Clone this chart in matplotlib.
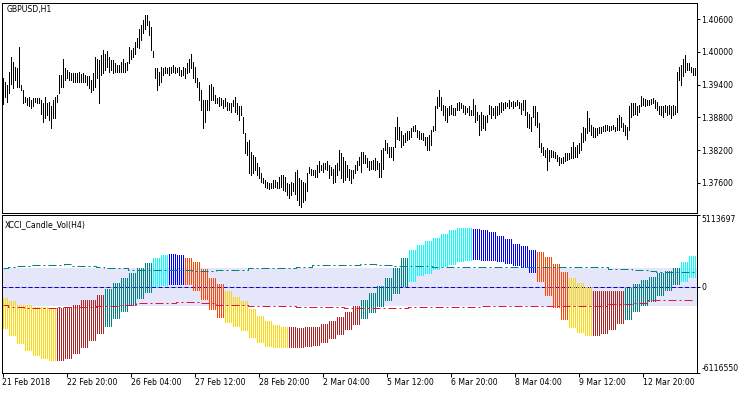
import numpy as np
import matplotlib
matplotlib.use('Agg')
import matplotlib.pyplot as plt

plt.rcParams['font.family'] = ['DejaVu Sans']
FS = 5.6

# GBPUSD H1 bars (high / low)
price_high = [
    1.3953, 1.3945, 1.3939, 1.3964, 1.3991, 1.3982, 1.3973, 1.3970, 1.4010, 1.3939,
    1.3930, 1.3918, 1.3915, 1.3918, 1.3912, 1.3915, 1.3915, 1.3915, 1.3915, 1.3912,
    1.3906, 1.3918, 1.3906, 1.3909, 1.3900, 1.3912, 1.3918, 1.3921, 1.3958, 1.3958,
    1.3988, 1.3970, 1.3967, 1.3964, 1.3961, 1.3962, 1.3962, 1.3961, 1.3964, 1.3960,
    1.3962, 1.3958, 1.3955, 1.3955, 1.3949, 1.3961, 1.3991, 1.3988, 1.3985, 1.3994,
    1.4004, 1.3997, 1.4001, 1.3991, 1.3985, 1.3985, 1.3979, 1.3976, 1.3976, 1.3982,
    1.3988, 1.3979, 1.3982, 1.4010, 1.4004, 1.4007, 1.4019, 1.4025, 1.4043, 1.4050,
    1.4059, 1.4068, 1.4068, 1.4056, 1.4046, 1.4001, 1.3970, 1.3970, 1.3964, 1.3973,
    1.3970, 1.3973, 1.3970, 1.3973, 1.3973, 1.3976, 1.3973, 1.3970, 1.3973, 1.3967,
    1.3973, 1.3970, 1.3979, 1.3988, 1.3997, 1.3982, 1.3973, 1.3952, 1.3945, 1.3930,
    1.3912, 1.3912, 1.3912, 1.3939, 1.3942, 1.3936, 1.3921, 1.3915, 1.3918, 1.3915,
    1.3912, 1.3915, 1.3909, 1.3906, 1.3906, 1.3912, 1.3918, 1.3906, 1.3900, 1.3900,
    1.3881, 1.3851, 1.3835, 1.3838, 1.3817, 1.3811, 1.3808, 1.3796, 1.3789, 1.3777,
    1.3768, 1.3765, 1.3762, 1.3760, 1.3759, 1.3765, 1.3765, 1.3762, 1.3771, 1.3774,
    1.3774, 1.3771, 1.3759, 1.3758, 1.3762, 1.3759, 1.3780, 1.3783, 1.3768, 1.3765,
    1.3762, 1.3759, 1.3777, 1.3789, 1.3786, 1.3783, 1.3783, 1.3792, 1.3799, 1.3792,
    1.3796, 1.3797, 1.3799, 1.3792, 1.3789, 1.3786, 1.3792, 1.3796, 1.3820, 1.3814,
    1.3808, 1.3799, 1.3792, 1.3786, 1.3783, 1.3783, 1.3792, 1.3799, 1.3808, 1.3817,
    1.3817, 1.3811, 1.3805, 1.3799, 1.3799, 1.3802, 1.3805, 1.3799, 1.3796, 1.3820,
    1.3823, 1.3838, 1.3832, 1.3826, 1.3826, 1.3826, 1.3863, 1.3881, 1.3863, 1.3854,
    1.3848, 1.3851, 1.3854, 1.3855, 1.3860, 1.3864, 1.3866, 1.3857, 1.3854, 1.3851,
    1.3852, 1.3844, 1.3844, 1.3848, 1.3857, 1.3864, 1.3901, 1.3918, 1.3930, 1.3918,
    1.3903, 1.3900, 1.3897, 1.3900, 1.3903, 1.3897, 1.3898, 1.3906, 1.3909, 1.3907,
    1.3903, 1.3900, 1.3898, 1.3900, 1.3893, 1.3913, 1.3903, 1.3890, 1.3884, 1.3890,
    1.3884, 1.3882, 1.3884, 1.3903, 1.3901, 1.3897, 1.3900, 1.3900, 1.3906, 1.3909,
    1.3907, 1.3909, 1.3907, 1.3911, 1.3909, 1.3910, 1.3909, 1.3912, 1.3909, 1.3906,
    1.3912, 1.3912, 1.3890, 1.3887, 1.3881, 1.3901, 1.3900, 1.3890, 1.3869, 1.3832,
    1.3826, 1.3820, 1.3823, 1.3820, 1.3820, 1.3819, 1.3817, 1.3811, 1.3808, 1.3805,
    1.3808, 1.3814, 1.3814, 1.3815, 1.3826, 1.3835, 1.3826, 1.3829, 1.3832, 1.3851,
    1.3863, 1.3860, 1.3892, 1.3878, 1.3866, 1.3863, 1.3860, 1.3860, 1.3863, 1.3862,
    1.3864, 1.3866, 1.3866, 1.3864, 1.3864, 1.3866, 1.3863, 1.3878, 1.3884, 1.3881,
    1.3869, 1.3866, 1.3863, 1.3900, 1.3907, 1.3907, 1.3906, 1.3900, 1.3903, 1.3919,
    1.3915, 1.3913, 1.3912, 1.3912, 1.3913, 1.3915, 1.3912, 1.3909, 1.3901, 1.3900,
    1.3900, 1.3903, 1.3900, 1.3903, 1.3900, 1.3903, 1.3900, 1.3964, 1.3973, 1.3976,
    1.3988, 1.3994, 1.3979, 1.3979, 1.3973, 1.3970, 1.3970,
]
price_low = [
    1.3904, 1.3918, 1.3909, 1.3924, 1.3942, 1.3933, 1.3949, 1.3936, 1.3936, 1.3930,
    1.3906, 1.3909, 1.3903, 1.3900, 1.3897, 1.3901, 1.3909, 1.3906, 1.3906, 1.3887,
    1.3872, 1.3878, 1.3884, 1.3875, 1.3860, 1.3878, 1.3878, 1.3909, 1.3924, 1.3936,
    1.3936, 1.3949, 1.3952, 1.3949, 1.3949, 1.3945, 1.3945, 1.3945, 1.3945, 1.3945,
    1.3945, 1.3945, 1.3939, 1.3933, 1.3927, 1.3930, 1.3936, 1.3952, 1.3906, 1.3958,
    1.3961, 1.3967, 1.3973, 1.3964, 1.3967, 1.3961, 1.3964, 1.3964, 1.3964, 1.3964,
    1.3964, 1.3964, 1.3967, 1.3979, 1.3988, 1.3991, 1.3997, 1.4010, 1.4007, 1.4022,
    1.4034, 1.4043, 1.4050, 1.4031, 1.4004, 1.3991, 1.3952, 1.3930, 1.3939, 1.3945,
    1.3958, 1.3961, 1.3961, 1.3958, 1.3961, 1.3964, 1.3961, 1.3964, 1.3958, 1.3955,
    1.3958, 1.3952, 1.3961, 1.3964, 1.3970, 1.3952, 1.3945, 1.3936, 1.3912, 1.3893,
    1.3860, 1.3872, 1.3893, 1.3893, 1.3912, 1.3912, 1.3906, 1.3906, 1.3900, 1.3903,
    1.3897, 1.3900, 1.3893, 1.3893, 1.3890, 1.3900, 1.3890, 1.3887, 1.3875, 1.3884,
    1.3851, 1.3814, 1.3811, 1.3777, 1.3774, 1.3777, 1.3783, 1.3774, 1.3768, 1.3762,
    1.3759, 1.3753, 1.3750, 1.3748, 1.3750, 1.3750, 1.3753, 1.3751, 1.3750, 1.3753,
    1.3747, 1.3744, 1.3737, 1.3731, 1.3737, 1.3744, 1.3740, 1.3728, 1.3719, 1.3716,
    1.3725, 1.3728, 1.3744, 1.3777, 1.3774, 1.3774, 1.3771, 1.3771, 1.3780, 1.3783,
    1.3780, 1.3786, 1.3783, 1.3768, 1.3774, 1.3759, 1.3762, 1.3774, 1.3783, 1.3768,
    1.3762, 1.3765, 1.3771, 1.3765, 1.3759, 1.3768, 1.3777, 1.3783, 1.3792, 1.3780,
    1.3796, 1.3796, 1.3789, 1.3783, 1.3786, 1.3786, 1.3783, 1.3786, 1.3771, 1.3771,
    1.3786, 1.3820, 1.3814, 1.3808, 1.3808, 1.3802, 1.3826, 1.3841, 1.3838, 1.3826,
    1.3829, 1.3835, 1.3838, 1.3841, 1.3844, 1.3854, 1.3854, 1.3844, 1.3841, 1.3841,
    1.3838, 1.3829, 1.3820, 1.3820, 1.3829, 1.3854, 1.3857, 1.3897, 1.3900, 1.3893,
    1.3884, 1.3875, 1.3872, 1.3884, 1.3887, 1.3884, 1.3884, 1.3893, 1.3893, 1.3897,
    1.3890, 1.3887, 1.3890, 1.3884, 1.3884, 1.3884, 1.3872, 1.3875, 1.3848, 1.3857,
    1.3860, 1.3857, 1.3872, 1.3887, 1.3878, 1.3884, 1.3878, 1.3884, 1.3887, 1.3890,
    1.3893, 1.3897, 1.3900, 1.3898, 1.3900, 1.3898, 1.3901, 1.3903, 1.3897, 1.3887,
    1.3893, 1.3884, 1.3863, 1.3860, 1.3854, 1.3881, 1.3866, 1.3863, 1.3826, 1.3817,
    1.3811, 1.3808, 1.3783, 1.3799, 1.3808, 1.3808, 1.3805, 1.3799, 1.3792, 1.3796,
    1.3796, 1.3799, 1.3802, 1.3803, 1.3805, 1.3805, 1.3808, 1.3808, 1.3814, 1.3820,
    1.3835, 1.3838, 1.3851, 1.3854, 1.3848, 1.3844, 1.3844, 1.3848, 1.3851, 1.3852,
    1.3854, 1.3854, 1.3857, 1.3855, 1.3857, 1.3858, 1.3855, 1.3857, 1.3857, 1.3863,
    1.3854, 1.3848, 1.3841, 1.3857, 1.3881, 1.3884, 1.3887, 1.3884, 1.3890, 1.3900,
    1.3903, 1.3901, 1.3903, 1.3903, 1.3904, 1.3906, 1.3898, 1.3893, 1.3887, 1.3884,
    1.3881, 1.3890, 1.3884, 1.3887, 1.3878, 1.3884, 1.3887, 1.3890, 1.3949, 1.3939,
    1.3955, 1.3964, 1.3967, 1.3967, 1.3964, 1.3958, 1.3958,
]

# XCCI_Candle_Vol(H4) candles, millions
cci_hi = [
    -0.793, -1.006, -1.290, -1.290, -1.479, -1.479, -1.550, -1.550, -1.432, -1.290,
    -0.958, -0.958, -0.604, -0.178, 0.272, 0.603, 0.982, 1.313, 1.692, 2.023,
    2.236, 2.331, 2.283, 2.023, 1.739, 1.219, 0.627, 0.177, -0.343, -0.745,
    -1.053, -1.621, -2.094, -2.449, -2.757, -2.875, -2.899, -2.946, -2.899, -2.851,
    -2.662, -2.473, -2.165, -1.787, -1.384, -0.958, -0.462, 0.012, 0.603, 1.313,
    2.023, 2.591, 2.970, 3.254, 3.490, 3.774, 4.011, 4.153, 4.153, 4.106,
    4.011, 3.869, 3.585, 3.396, 3.064, 2.922, 2.638, 2.449, 2.118, 1.597,
    1.029, 0.603, 0.225, -0.059, -0.296, -0.343, -0.343, -0.296, -0.107, 0.177,
    0.462, 0.651, 0.935, 1.077, 1.313, 1.739, 2.165,
]
cci_lo = [
    -2.922, -3.443, -3.987, -4.531, -4.886, -5.052, -5.194, -5.194, -5.052, -4.697,
    -4.295, -3.798, -3.325, -2.780, -2.236, -1.716, -1.290, -0.816, -0.367, 0.059,
    0.083, 0.201, 0.201, 0.201, -0.248, -0.887, -1.574, -2.141, -2.544, -2.780,
    -3.064, -3.585, -3.940, -4.224, -4.295, -4.295, -4.295, -4.295, -4.248, -4.153,
    -3.916, -3.680, -3.348, -3.041, -2.638, -2.236, -1.787, -1.384, -0.958, -0.438,
    0.036, 0.414, 0.793, 0.982, 1.219, 1.455, 1.645, 1.834, 1.929, 1.976,
    1.929, 1.881, 1.834, 1.692, 1.550, 1.361, 1.029, 0.414, -0.580, -1.479,
    -2.283, -2.851, -3.230, -3.419, -3.419, -3.277, -2.993, -2.615, -2.283, -1.763,
    -1.337, -1.006, -0.580, -0.248, 0.177, 0.367, 0.698,
]
cci_color = (['#FFD700'] * 7 + ['#B22222'] * 6 + ['#008080'] * 6 + ['#00FFFF'] * 2 +
             ['#0000FF'] * 2 + ['#FF4500'] * 5 + ['#FFD700'] * 8 + ['#B22222'] * 9 +
             ['#008080'] * 6 + ['#00FFFF'] * 8 + ['#0000FF'] * 8 + ['#FF4500'] * 4 +
             ['#FFD700'] * 3 + ['#B22222'] * 4 + ['#008080'] * 7 + ['#00FFFF'] * 2)
level_up = ([1.292, 1.384, 1.455, 1.477] + [1.505] * 4 + [1.576] + [1.477] * 3 +
            [1.420] + [1.349] * 2 + [1.292] + [1.207] * 2 + [1.150] * 6 +
            [1.079] * 3 + [1.207] * 4 + [1.313] * 6 + [1.384] * 2 + [1.505] * 6 +
            [1.576] * 2 + [1.526] * 2 + [1.455] * 5 + [1.363] * 22 + [1.242] * 3 +
            [1.150] * 2 + [1.079] + [1.008] * 5)
level_dn = ([-1.335] + [-1.434] * 2 + [-1.548] * 4 + [-1.477] * 2 + [-1.434] * 3 +
            [-1.384] * 3 + [-1.292] * 2 + [-1.193] * 5 + [-1.100] * 3 +
            [-1.193] * 2 + [-1.292] * 4 + [-1.384] * 6 + [-1.477] * 6 +
            [-1.548] * 8 + [-1.477] * 4 + [-1.420] * 5 + [-1.363] * 4 +
            [-1.406] * 7 + [-1.363] * 5 + [-1.242] * 3 + [-1.150] * 2 + [-0.980] * 6)
band = (-1.355, 1.360)
cci_max, cci_min = 5113697, -6116550

price_ticks = [1.406, 1.400, 1.394, 1.388, 1.382, 1.376]
time_labels = ['21 Feb 2018', '22 Feb 20:00', '26 Feb 04:00', '27 Feb 12:00',
               '28 Feb 20:00', '2 Mar 04:00', '5 Mar 12:00', '6 Mar 20:00',
               '8 Mar 04:00', '9 Mar 12:00', '12 Mar 20:00']

W, H = 750, 394
PX = 72 / 100  # one pixel in points

fig = plt.figure(figsize=(W / 100, H / 100), dpi=100)
ax1 = fig.add_axes([2.0 / W, (H - 212.7) / H, 694.5 / W, 210 / H])
ax2 = fig.add_axes([2.0 / W, (H - 372.7) / H, 694.5 / W, 158 / H])

n = len(price_high)
bars = np.arange(n)

# price panel
ax1.vlines(bars, price_low, price_high, color='black', lw=PX, antialiased=False)
ax1.set_xlim(-0.25, 347)
ax1.set_ylim(1.37049, 1.40905)
ax1.yaxis.tick_right()
ax1.set_yticks(price_ticks)
ax1.set_yticklabels([f'{p:.5f}' for p in price_ticks])
ax1.set_xticks([])
ax1.tick_params(axis='y', length=3 * PX, width=PX, pad=1, labelsize=FS)
ax1.text(4.5 / 694.5, 1 - 7.3 / 210, 'GBPUSD,H1', transform=ax1.transAxes,
         fontsize=FS, va='center', ha='left')

# indicator panel
ax2.axhspan(band[0] * 1e6, band[1] * 1e6, facecolor='#E6E6FA', lw=0, zorder=0)
ax2.axhline(0, color='#B4AA96', lw=PX, zorder=1)
ax2.axhline(0, color='#0000FF', lw=PX, dashes=(4, 2.5), zorder=2)

# each H4 candle spans four H1 slots
k_idx = np.repeat(np.arange(len(cci_hi)), 4)
b_idx = np.tile(np.arange(4), len(cci_hi)) + 4 * k_idx - 1
ok = (b_idx >= 0) & (b_idx < n)
hi = np.array(cci_hi)[k_idx] * 1e6
lo = np.array(cci_lo)[k_idx] * 1e6
cols = [cci_color[k] for k in k_idx[ok]]
ax2.vlines(b_idx[ok], lo[ok], hi[ok], colors=cols, lw=PX,
           antialiased=False, zorder=3)

up = np.array(level_up)[k_idx] * 1e6
dn = np.array(level_dn)[k_idx] * 1e6
ax2.plot(b_idx[ok], up[ok], color='#008080', lw=PX, dashes=(8, 3, 2, 3),
         drawstyle='steps-mid', zorder=4)
ax2.plot(b_idx[ok], dn[ok], color='#DC143C', lw=PX, dashes=(8, 3, 2, 3),
         drawstyle='steps-mid', zorder=4)

ax2.set_xlim(-0.25, 347)
ax2.set_ylim(cci_min, cci_max)
ax2.yaxis.tick_right()
ax2.set_yticks([cci_max, 0, cci_min])
ax2.set_yticklabels([str(cci_max), '0', str(cci_min)])
ax2.tick_params(axis='y', length=3 * PX, width=PX, pad=1.5, labelsize=FS)
ylabels = ax2.get_yticklabels()
ylabels[0].set_va('top')
ylabels[2].set_va('bottom')
ax2.set_xticks(np.arange(len(time_labels)) * 32)
ax2.set_xticklabels(time_labels, ha='left')
ax2.tick_params(axis='x', length=4 * PX, width=PX, pad=1, labelsize=FS)
ax2.text(3 / 694.5, 1 - 10.3 / 158, 'XCCI_Candle_Vol(H4)', transform=ax2.transAxes,
         fontsize=FS, va='center', ha='left')

for ax in (ax1, ax2):
    for s in ax.spines.values():
        s.set_linewidth(PX)
        s.set_color('black')

fig.savefig('out.png', dpi=100)
